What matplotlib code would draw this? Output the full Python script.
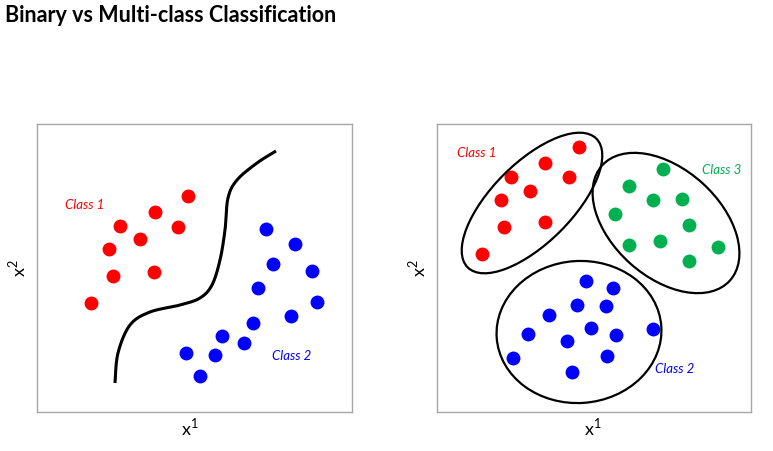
import numpy as np
import matplotlib
matplotlib.use("Agg")
import matplotlib.pyplot as plt
from matplotlib.patches import Ellipse

plt.rcParams['font.family'] = ['Lato', 'DejaVu Sans']
plt.rcParams['mathtext.fontset'] = 'custom'
plt.rcParams['mathtext.rm'] = 'Lato'

# values, in pixel-like units (y grows downwards)
bin_red_x = [188, 155, 120, 178, 140, 109, 113, 154, 91]
bin_red_y = [196, 212, 226, 227, 239, 249, 276, 272, 303]
bin_blue_x = [266, 295, 273, 312, 258, 317, 291, 253, 222, 244, 186, 215, 200]
bin_blue_y = [229, 244, 264, 271, 288, 302, 316, 323, 336, 343, 353, 355, 376]
curve_x = [115, 118, 130, 150, 180, 200, 212, 220, 225, 228, 237, 257, 276]
curve_y = [383, 353, 325, 312, 305, 298, 285, 260, 230, 198, 180, 163, 151]

mc_red_x = [579, 545, 511, 569, 530, 501, 504, 545, 482]
mc_red_y = [147, 163, 177, 177, 191, 200, 227, 222, 254]
mc_green_x = [663, 629, 653, 682, 615, 689, 629, 660, 718, 689]
mc_green_y = [169, 186, 200, 199, 214, 225, 245, 241, 247, 261]
mc_blue_x = [586, 613, 577, 606, 549, 591, 528, 616, 653, 567, 513, 607, 572]
mc_blue_y = [281, 288, 305, 306, 315, 328, 334, 335, 329, 341, 358, 356, 372]

# cluster outlines: centre x, centre y, width, height, angle
outline_red = (532, 203, 182, 80, -45)
outline_green = (666, 223, 172, 108, 42)
outline_blue = (579, 332, 165, 142, -4)

RED = '#FF0000'
BLUE = '#0000FF'
GREEN = '#00B050'

W, H = 773, 451
fig = plt.figure(figsize=(W / 100, H / 100), dpi=100)


def panel(x0, x1, y0=124, y1=412):
    ax = fig.add_axes([x0 / W, 1 - y1 / H, (x1 - x0) / W, (y1 - y0) / H])
    ax.set_xlim(x0, x1)
    ax.set_ylim(y1, y0)
    ax.set_xticks([])
    ax.set_yticks([])
    for s in ax.spines.values():
        s.set_color('#A6A6A6')
        s.set_linewidth(1.0)
    return ax


def catmull_rom(xs, ys, n=20):
    p = np.column_stack([xs, ys]).astype(float)
    p = np.vstack([p[0], p, p[-1]])
    out = []
    s = np.linspace(0, 1, n, endpoint=False)[:, None]
    for i in range(1, len(p) - 2):
        p0, p1, p2, p3 = p[i - 1], p[i], p[i + 1], p[i + 2]
        out.append(0.5 * (2 * p1 + (-p0 + p2) * s
                          + (2 * p0 - 5 * p1 + 4 * p2 - p3) * s ** 2
                          + (-p0 + 3 * p1 - 3 * p2 + p3) * s ** 3))
    out.append(p[-2][None, :])
    out = np.vstack(out)
    return out[:, 0], out[:, 1]


dot = dict(s=100, linewidths=0)
lab = dict(fontsize=9.5, style='italic', ha='center', va='center')

# binary panel
ax1 = panel(37, 352)
ax1.scatter(bin_red_x, bin_red_y, color=RED, **dot)
ax1.scatter(bin_blue_x, bin_blue_y, color=BLUE, **dot)
cx, cy = catmull_rom(curve_x, curve_y)
ax1.plot(cx, cy, color='black', lw=2.2, solid_capstyle='butt')
ax1.text(85, 205, 'Class 1', color=RED, **lab)
ax1.text(292, 356, 'Class 2', color=BLUE, **lab)

# multi-class panel
ax2 = panel(437, 751)
ax2.scatter(mc_red_x, mc_red_y, color=RED, **dot)
ax2.scatter(mc_green_x, mc_green_y, color=GREEN, **dot)
ax2.scatter(mc_blue_x, mc_blue_y, color=BLUE, **dot)
for ex, ey, w, h, a in (outline_red, outline_green, outline_blue):
    ax2.add_patch(Ellipse((ex, ey), w, h, angle=a, fill=False, ec='black', lw=1.6))
ax2.text(477, 153, 'Class 1', color=RED, **lab)
ax2.text(722, 170, 'Class 3', color=GREEN, **lab)
ax2.text(675, 369, 'Class 2', color=BLUE, **lab)

# axis labels
for x in (190, 593):
    fig.text(x / W, 1 - 427 / H, r'$\mathrm{x}^{1}$', fontsize=13, ha='center', va='center')
for x in (17, 417):
    fig.text(x / W, 1 - 268 / H, r'$\mathrm{x}^{2}$', fontsize=13, ha='center', va='center',
             rotation=90)

fig.text(5 / W, 1 - 16 / H, 'Binary vs Multi-class Classification', fontsize=15.5,
         fontweight='bold', ha='left', va='center')

fig.savefig('out.png', dpi=100)
